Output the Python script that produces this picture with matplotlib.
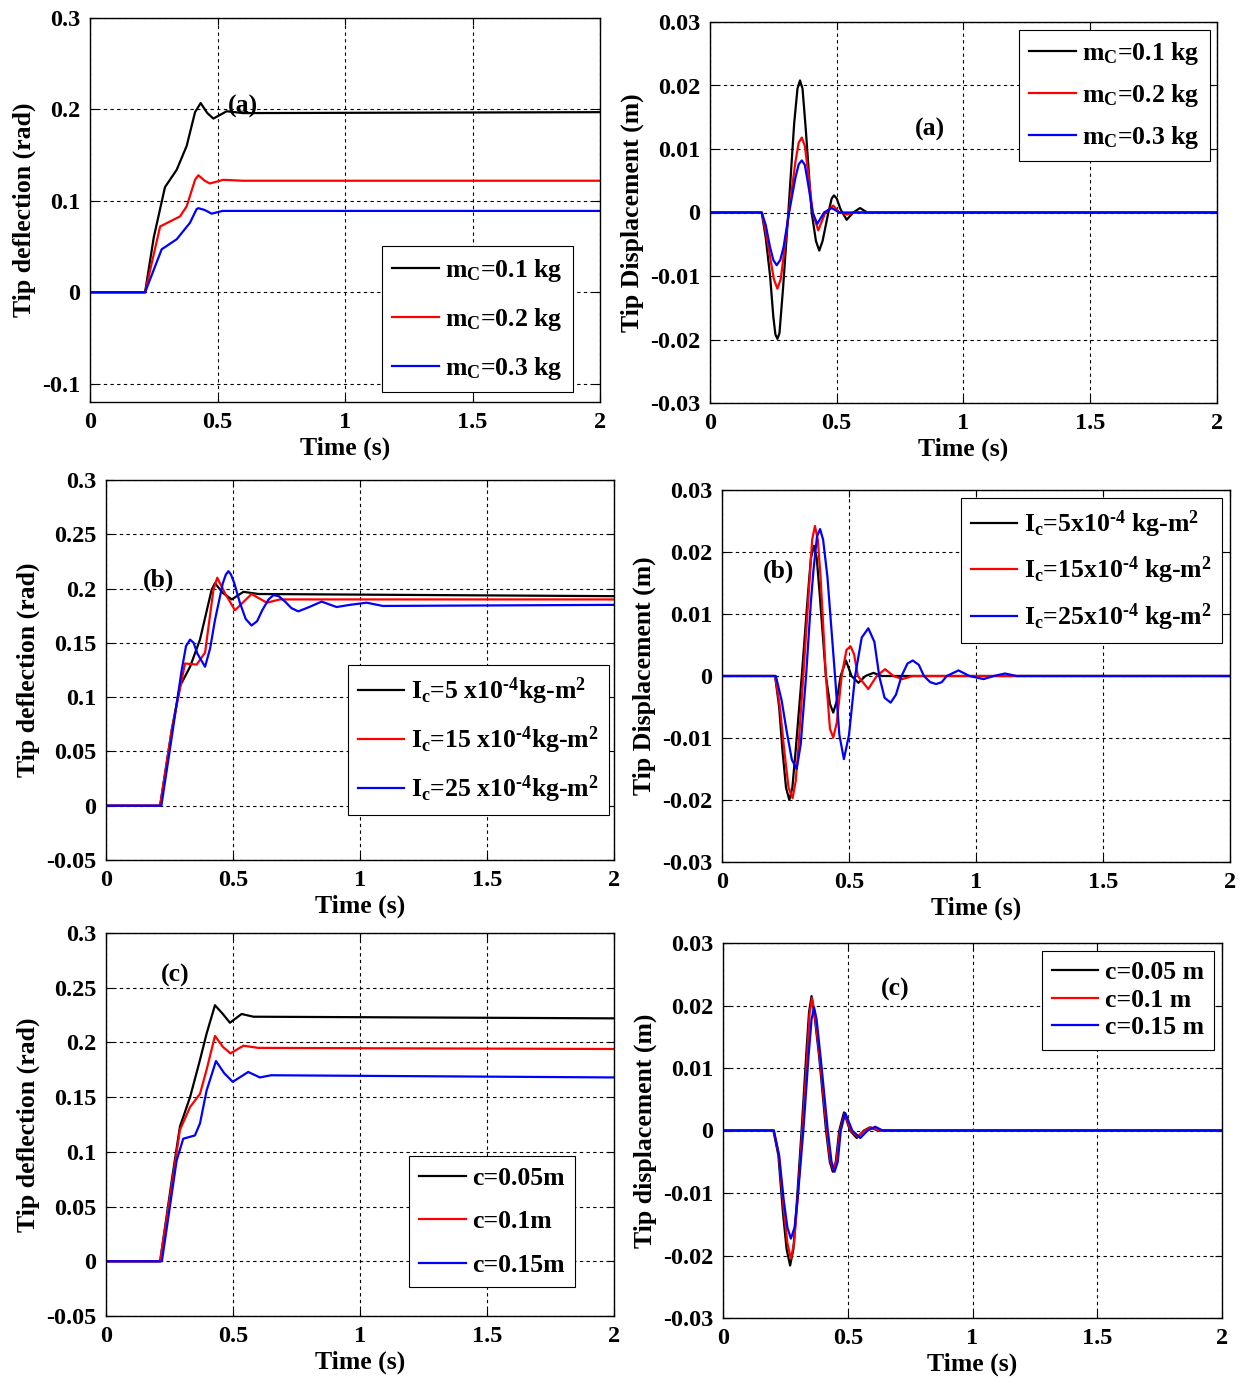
import numpy as np
import matplotlib
matplotlib.use('Agg')
import matplotlib.pyplot as plt

plt.rcParams['font.family'] = 'Liberation Serif'
plt.rcParams['font.weight'] = 'bold'
plt.rcParams['mathtext.fontset'] = 'custom'
plt.rcParams['mathtext.rm'] = 'Liberation Serif:bold'
plt.rcParams['mathtext.bf'] = 'Liberation Serif:bold'
plt.rcParams['mathtext.it'] = 'Liberation Serif:bold'

# ---- panel (a) left : tip deflection, varying m_C
a_t_k = [0, 0.216, 0.25, 0.294, 0.34, 0.379, 0.412, 0.434, 0.46, 0.484, 0.536, 0.6, 2.0]
a_y_k = [0, 0, 0.06, 0.115, 0.134, 0.16, 0.197, 0.207, 0.196, 0.19, 0.198, 0.196, 0.197]
a_t_r = [0, 0.216, 0.275, 0.353, 0.379, 0.412, 0.425, 0.45, 0.47, 0.522, 0.6, 2.0]
a_y_r = [0, 0, 0.072, 0.083, 0.094, 0.123, 0.128, 0.122, 0.119, 0.123, 0.122, 0.122]
a_t_b = [0, 0.216, 0.281, 0.34, 0.392, 0.418, 0.425, 0.45, 0.477, 0.52, 2.0]
a_y_b = [0, 0, 0.047, 0.058, 0.076, 0.091, 0.092, 0.09, 0.086, 0.089, 0.089]

# ---- panel (a) right : tip displacement, varying m_C
ad_t_k = [0, 0.204, 0.22, 0.237, 0.25, 0.258, 0.266, 0.274, 0.288, 0.309, 0.332, 0.345, 0.355, 0.365, 0.378,
          0.401, 0.418, 0.431, 0.444, 0.467, 0.48, 0.489, 0.5, 0.515, 0.539, 0.565, 0.592, 0.62, 2.0]
ad_y_k = [0, 0, -0.004, -0.010, -0.0165, -0.0192, -0.0199, -0.019, -0.012, 0, 0.014, 0.0195, 0.0208, 0.0195, 0.013,
          0, -0.0045, -0.006, -0.0045, 0, 0.0022, 0.0027, 0.0022, 0.0005, -0.00115, 0, 0.0007, 0, 0]
ad_t_r = [0, 0.204, 0.22, 0.237, 0.252, 0.266, 0.279, 0.29, 0.311, 0.337, 0.35, 0.362, 0.374, 0.385, 0.405,
          0.427, 0.455, 0.486, 0.51, 0.54, 0.57, 2.0]
ad_y_r = [0, 0, -0.003, -0.007, -0.0105, -0.012, -0.0105, -0.007, 0, 0.008, 0.011, 0.0118, 0.0105, 0.007, 0,
          -0.0028, 0, 0.0011, 0, -0.0003, 0, 0]
ad_t_b = [0, 0.204, 0.22, 0.237, 0.25, 0.263, 0.277, 0.29, 0.312, 0.337, 0.35, 0.362, 0.374, 0.385, 0.405,
          0.423, 0.45, 0.48, 0.51, 2.0]
ad_y_b = [0, 0, -0.002, -0.0055, -0.0075, -0.0083, -0.0075, -0.0055, 0, 0.0055, 0.0076, 0.0082, 0.0075, 0.005, 0,
          -0.0018, 0, 0.0007, 0, 0]

# ---- panel (b) left : tip deflection, varying I_c
b_t_k = [0, 0.213, 0.259, 0.291, 0.331, 0.37, 0.416, 0.429, 0.46, 0.495, 0.541, 0.6, 2.0]
b_y_k = [0, 0, 0.07, 0.11, 0.128, 0.153, 0.199, 0.205, 0.196, 0.19, 0.197, 0.195, 0.193]
b_t_r = [0, 0.213, 0.259, 0.311, 0.357, 0.39, 0.423, 0.438, 0.47, 0.508, 0.573, 0.633, 0.685, 2.0]
b_y_r = [0, 0, 0.07, 0.131, 0.13, 0.141, 0.199, 0.21, 0.195, 0.18, 0.195, 0.187, 0.19, 0.19]
b_t_b = [0, 0.218, 0.26, 0.298, 0.315, 0.331, 0.345, 0.36, 0.39, 0.41, 0.429, 0.46, 0.472, 0.482, 0.492, 0.505,
         0.527, 0.55, 0.573, 0.595, 0.615, 0.64, 0.659, 0.68, 0.705, 0.73, 0.757, 0.8, 0.849, 0.908, 0.96, 1.026,
         1.09, 2.0]
b_y_b = [0, 0, 0.065, 0.125, 0.147, 0.153, 0.15, 0.14, 0.128, 0.145, 0.171, 0.205, 0.213, 0.216, 0.213, 0.205,
         0.187, 0.172, 0.166, 0.17, 0.18, 0.19, 0.194, 0.193, 0.188, 0.182, 0.179, 0.183, 0.188, 0.183, 0.185, 0.187,
         0.184, 0.185]

# ---- panel (b) right : tip displacement, varying I_c
bd_t_k = [0, 0.209, 0.225, 0.238, 0.252, 0.265, 0.277, 0.29, 0.314, 0.338, 0.35, 0.362, 0.373, 0.385, 0.409,
          0.425, 0.438, 0.452, 0.467, 0.488, 0.51, 0.537, 0.565, 0.596, 0.63, 2.0]
bd_y_k = [0, 0, -0.005, -0.012, -0.018, -0.02, -0.018, -0.012, 0, 0.013, 0.019, 0.021, 0.019, 0.013, 0,
          -0.0045, -0.0059, -0.004, 0, 0.0025, 0, -0.0011, 0, 0.0005, 0, 0]
bd_t_r = [0, 0.209, 0.228, 0.245, 0.262, 0.278, 0.29, 0.3, 0.32, 0.344, 0.355, 0.366, 0.377, 0.388, 0.409,
          0.425, 0.438, 0.452, 0.471, 0.49, 0.506, 0.52, 0.535, 0.576, 0.609, 0.642, 0.675, 0.71, 0.75, 2.0]
bd_y_r = [0, 0, -0.005, -0.012, -0.018, -0.0197, -0.017, -0.012, 0, 0.015, 0.022, 0.0242, 0.022, 0.016, 0,
          -0.0085, -0.00995, -0.0075, 0, 0.0042, 0.0048, 0.0035, 0, -0.0021, 0, 0.0011, 0, -0.0005, 0, 0]
bd_t_b = [0, 0.212, 0.235, 0.255, 0.275, 0.294, 0.31, 0.331, 0.35, 0.36, 0.374, 0.386, 0.398, 0.415, 0.445,
          0.462, 0.48, 0.5, 0.524, 0.55, 0.576, 0.6, 0.619, 0.64, 0.664, 0.685, 0.707, 0.73, 0.751, 0.775, 0.795,
          0.82, 0.843, 0.865, 0.885, 0.931, 0.974, 1.03, 1.07, 1.114, 1.16, 2.0]
bd_y_b = [0, 0, -0.004, -0.009, -0.0135, -0.015, -0.011, 0, 0.012, 0.017, 0.0225, 0.0237, 0.022, 0.016, 0,
          -0.0095, -0.0134, -0.0095, 0, 0.0062, 0.0077, 0.0055, 0, -0.0035, -0.0043, -0.003, 0, 0.002, 0.0025,
          0.0018, 0, -0.001, -0.0013, -0.001, 0, 0.0009, 0, -0.0005, 0, 0.0004, 0, 0]

# ---- panel (c) left : tip deflection, varying c
c_t_k = [0, 0.213, 0.259, 0.291, 0.331, 0.37, 0.396, 0.429, 0.46, 0.488, 0.534, 0.58, 2.0]
c_y_k = [0, 0, 0.074, 0.123, 0.15, 0.184, 0.208, 0.234, 0.226, 0.218, 0.226, 0.2235, 0.222]
c_t_r = [0, 0.213, 0.259, 0.291, 0.331, 0.37, 0.396, 0.429, 0.46, 0.49, 0.541, 0.6, 2.0]
c_y_r = [0, 0, 0.07, 0.12, 0.141, 0.153, 0.175, 0.206, 0.196, 0.19, 0.197, 0.195, 0.194]
c_t_b = [0, 0.22, 0.278, 0.304, 0.35, 0.37, 0.396, 0.433, 0.465, 0.499, 0.56, 0.606, 0.65, 2.0]
c_y_b = [0, 0, 0.092, 0.112, 0.115, 0.126, 0.156, 0.183, 0.172, 0.164, 0.173, 0.168, 0.17, 0.168]

# ---- panel (c) right : tip displacement, varying c
cd_t_k = [0, 0.202, 0.222, 0.24, 0.255, 0.269, 0.282, 0.295, 0.315, 0.335, 0.345, 0.355, 0.365, 0.385, 0.413,
          0.428, 0.44, 0.452, 0.466, 0.485, 0.509, 0.536, 0.565, 0.589, 0.62, 2.0]
cd_y_k = [0, 0, -0.004, -0.013, -0.019, -0.0216, -0.019, -0.012, 0, 0.013, 0.019, 0.0215, 0.019, 0.012, 0,
          -0.005, -0.0066, -0.005, 0, 0.0029, 0, -0.0012, 0, 0.0005, 0, 0]
cd_t_r = [0, 0.203, 0.224, 0.242, 0.258, 0.272, 0.285, 0.298, 0.318, 0.338, 0.347, 0.357, 0.367, 0.387, 0.416,
          0.43, 0.442, 0.455, 0.469, 0.488, 0.512, 0.54, 0.568, 0.593, 0.625, 2.0]
cd_y_r = [0, 0, -0.004, -0.012, -0.018, -0.0205, -0.018, -0.0115, 0, 0.0125, 0.0187, 0.0212, 0.0187, 0.012, 0,
          -0.0048, -0.0063, -0.0048, 0, 0.0027, 0, -0.001, 0, 0.0005, 0, 0]
cd_t_b = [0, 0.204, 0.225, 0.243, 0.258, 0.272, 0.287, 0.3, 0.322, 0.343, 0.355, 0.365, 0.375, 0.393, 0.42,
          0.435, 0.447, 0.46, 0.472, 0.49, 0.518, 0.55, 0.58, 0.61, 0.64, 2.0]
cd_y_b = [0, 0, -0.004, -0.011, -0.0155, -0.0173, -0.0155, -0.0105, 0, 0.012, 0.0178, 0.0197, 0.0178, 0.011, 0,
          -0.005, -0.0066, -0.005, 0, 0.0028, 0, -0.0012, 0, 0.0006, 0, 0]

x_ticks = [0, 0.5, 1, 1.5, 2]
x_ticklabels = ['0', '0.5', '1', '1.5', '2']
defl_ticks_a = [-0.1, 0, 0.1, 0.2, 0.3]
defl_labels_a = ['-0.1', '0', '0.1', '0.2', '0.3']
defl_ticks_bc = [-0.05, 0, 0.05, 0.1, 0.15, 0.2, 0.25, 0.3]
defl_labels_bc = ['-0.05', '0', '0.05', '0.1', '0.15', '0.2', '0.25', '0.3']
disp_ticks = [-0.03, -0.02, -0.01, 0, 0.01, 0.02, 0.03]
disp_labels = ['-0.03', '-0.02', '-0.01', '0', '0.01', '0.02', '0.03']

lab_mc = [r'm$_{\rm C}$=0.1 kg', r'm$_{\rm C}$=0.2 kg', r'm$_{\rm C}$=0.3 kg']
lab_ic_l = [r'I$_{\rm c}$=5 x10$^{\text{-4}}$kg-m$^{\rm 2}$', r'I$_{\rm c}$=15 x10$^{\text{-4}}$kg-m$^{\rm 2}$',
            r'I$_{\rm c}$=25 x10$^{\text{-4}}$kg-m$^{\rm 2}$']
lab_ic_r = [r'I$_{\rm c}$=5x10$^{\text{-4}}$ kg-m$^{\rm 2}$', r'I$_{\rm c}$=15x10$^{\text{-4}}$ kg-m$^{\rm 2}$',
            r'I$_{\rm c}$=25x10$^{\text{-4}}$ kg-m$^{\rm 2}$']
lab_c_l = ['c=0.05m', 'c=0.1m', 'c=0.15m']
lab_c_r = ['c=0.05 m', 'c=0.1 m', 'c=0.15 m']

W, H = 1251, 1380
fig = plt.figure(figsize=(W/100, H/100), dpi=100)


def make_ax(l, t, r, b):
    return fig.add_axes([l/W, 1-b/H, (r-l)/W, (b-t)/H])


def style(ax, ylim, yt, ytl, ylabel):
    ax.set_xlim(0, 2)
    ax.set_ylim(*ylim)
    ax.set_xticks(x_ticks)
    ax.set_xticklabels(x_ticklabels)
    ax.set_yticks(yt)
    ax.set_yticklabels(ytl)
    ax.grid(True, color='k', linestyle=(0, (3, 3)), linewidth=0.8)
    ax.tick_params(direction='in', top=True, right=True, labelsize=17.5, pad=7, length=5)
    ax.set_xlabel('Time (s)', fontsize=18.5, fontweight='bold', labelpad=3)
    ax.set_ylabel(ylabel, fontsize=18.5, fontweight='bold', labelpad=4)
    for s in ax.spines.values():
        s.set_color('k')
        s.set_linewidth(1.0)


def curves(ax, data, labels):
    for (t, y), c, lab in zip(data, ['k', 'r', 'b'], labels):
        ax.plot(t, y, color=c, lw=1.6, label=lab)


leg_kw = dict(fontsize=18.5, frameon=True, fancybox=False, edgecolor='k', framealpha=1,
              handlelength=1.8, handletextpad=0.25, borderaxespad=0)

# (a) left
ax = make_ax(90, 18, 600, 402)
curves(ax, [(a_t_k, a_y_k), (a_t_r, a_y_r), (a_t_b, a_y_b)], lab_mc)
style(ax, (-0.12, 0.3), defl_ticks_a, defl_labels_a, 'Tip deflection (rad)')
ax.text(0.6, 0.203, '(a)', fontsize=18.5, ha='center', va='center')
lg = ax.legend(loc='lower right', bbox_to_anchor=(0.947, 0.026), labelspacing=0.86, **leg_kw)
lg.get_frame().set_linewidth(0.8)

# (a) right
ax = make_ax(710, 22, 1217, 403)
curves(ax, [(ad_t_k, ad_y_k), (ad_t_r, ad_y_r), (ad_t_b, ad_y_b)], lab_mc)
style(ax, (-0.03, 0.03), disp_ticks, disp_labels, 'Tip Displacement (m)')
ax.text(0.868, 0.0131, '(a)', fontsize=18.5, ha='center', va='center')
lg = ax.legend(loc='upper right', bbox_to_anchor=(0.986, 0.979), labelspacing=0.58, **leg_kw)
lg.get_frame().set_linewidth(0.8)

# (b) left
ax = make_ax(106, 480, 614, 860)
curves(ax, [(b_t_k, b_y_k), (b_t_r, b_y_r), (b_t_b, b_y_b)], lab_ic_l)
style(ax, (-0.05, 0.3), defl_ticks_bc, defl_labels_bc, 'Tip deflection (rad)')
ax.text(0.205, 0.208, '(b)', fontsize=18.5, ha='center', va='center')
lg = ax.legend(loc='lower right', bbox_to_anchor=(0.99, 0.118), labelspacing=0.68, **leg_kw)
lg.get_frame().set_linewidth(0.8)

# (b) right
ax = make_ax(722, 490, 1230, 862)
curves(ax, [(bd_t_k, bd_y_k), (bd_t_r, bd_y_r), (bd_t_b, bd_y_b)], lab_ic_r)
style(ax, (-0.03, 0.03), disp_ticks, disp_labels, 'Tip Displacement (m)')
ax.text(0.224, 0.0169, '(b)', fontsize=18.5, ha='center', va='center')
lg = ax.legend(loc='upper right', bbox_to_anchor=(0.984, 0.978), labelspacing=0.58, **leg_kw)
lg.get_frame().set_linewidth(0.8)

# (c) left
ax = make_ax(106, 933, 614, 1316)
curves(ax, [(c_t_k, c_y_k), (c_t_r, c_y_r), (c_t_b, c_y_b)], lab_c_l)
style(ax, (-0.05, 0.3), defl_ticks_bc, defl_labels_bc, 'Tip deflection (rad)')
ax.text(0.272, 0.261, '(c)', fontsize=18.5, ha='center', va='center')
lg = ax.legend(loc='lower right', bbox_to_anchor=(0.923, 0.076), labelspacing=0.8, **leg_kw)
lg.get_frame().set_linewidth(0.8)

# (c) right
ax = make_ax(723, 943, 1222, 1318)
curves(ax, [(cd_t_k, cd_y_k), (cd_t_r, cd_y_r), (cd_t_b, cd_y_b)], lab_c_r)
style(ax, (-0.03, 0.03), disp_ticks, disp_labels, 'Tip displacement (m)')
ax.text(0.689, 0.0225, '(c)', fontsize=18.5, ha='center', va='center')
lg = ax.legend(loc='upper right', bbox_to_anchor=(0.984, 0.979), labelspacing=0.18, **leg_kw)
lg.get_frame().set_linewidth(0.8)

fig.savefig('out.png', dpi=100)
